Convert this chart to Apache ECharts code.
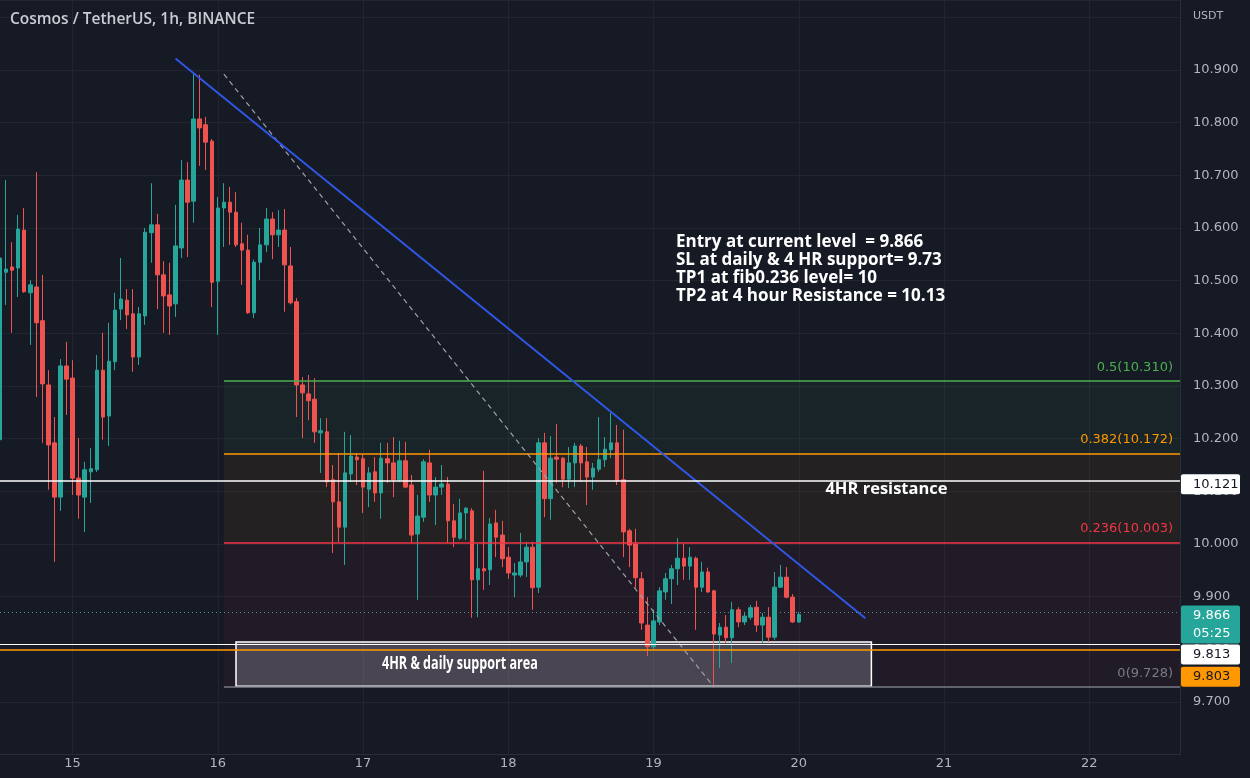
<!DOCTYPE html>
<html><head><meta charset="utf-8">
<script src="https://cdn.jsdelivr.net/npm/echarts@6/dist/echarts.min.js"></script>
<style>html,body{margin:0;padding:0;background:#161a25;}#c{width:1250px;height:778px;}</style>
</head><body><div id="c"></div>
<script>
// ---- data (1h candles, Cosmos / TetherUS, from 14 12:00 to 20 00:00) ----
const open = [10.198,10.516,10.526,10.524,10.596,10.477,10.488,10.424,10.302,10.192,
10.089,10.338,10.315,10.125,10.089,10.137,10.141,10.330,10.243,10.346,
10.446,10.463,10.437,10.355,10.433,10.591,10.606,10.511,10.473,10.456,
10.562,10.691,10.651,10.807,10.796,10.765,10.499,10.638,10.649,10.630,
10.570,10.558,10.439,10.535,10.568,10.617,10.587,10.596,10.528,10.460,
10.302,10.285,10.275,10.211,10.213,10.122,10.080,10.032,10.133,10.165,
10.162,10.104,10.137,10.097,10.162,10.154,10.122,10.158,10.112,10.019,
10.051,10.154,10.093,10.108,10.114,10.044,10.011,10.059,10.063,9.932,
9.953,9.951,10.040,10.017,9.975,9.941,9.941,9.966,9.994,9.918,
10.192,10.086,10.165,10.163,10.123,10.154,10.186,10.156,10.127,10.142,
10.160,10.179,10.192,10.122,10.025,10.000,9.934,9.846,9.805,9.852,
9.909,9.934,9.953,9.973,9.958,9.973,9.918,9.947,9.911,9.827,
9.842,9.822,9.875,9.852,9.861,9.880,9.846,9.861,9.823,9.918,
9.937,9.899,9.852];
const close = [10.543,10.522,10.520,10.598,10.479,10.492,10.420,10.304,10.188,10.089,
10.338,10.313,10.125,10.093,10.141,10.143,10.330,10.241,10.347,10.444,
10.465,10.435,10.355,10.437,10.592,10.606,10.511,10.471,10.452,10.566,
10.691,10.649,10.807,10.790,10.763,10.497,10.638,10.649,10.630,10.568,
10.558,10.439,10.535,10.568,10.617,10.587,10.596,10.530,10.458,10.302,
10.287,10.272,10.213,10.215,10.118,10.080,10.032,10.135,10.167,10.160,
10.108,10.135,10.097,10.163,10.154,10.122,10.158,10.108,10.017,10.053,
10.156,10.093,10.108,10.114,10.044,10.013,10.059,10.068,9.932,9.953,
9.949,10.038,10.013,9.972,9.945,9.945,9.966,9.994,9.917,10.192,
10.086,10.163,10.161,10.123,10.154,10.186,10.154,10.127,10.144,10.160,
10.180,10.192,10.120,10.023,9.998,9.936,9.850,9.805,9.854,9.911,
9.934,9.953,9.973,9.958,9.975,9.918,9.947,9.909,9.829,9.842,
9.822,9.875,9.852,9.863,9.879,9.846,9.861,9.823,9.918,9.937,
9.899,9.852,9.866];
const low = [10.080,10.454,10.401,10.469,10.477,10.378,10.279,10.192,10.103,9.966,
10.063,10.245,10.093,10.048,10.023,10.078,10.137,10.198,10.186,10.330,
10.425,10.408,10.327,10.340,10.416,10.534,10.446,10.401,10.397,10.431,
10.543,10.545,10.610,10.718,10.710,10.450,10.397,10.564,10.568,10.564,
10.492,10.437,10.429,10.501,10.554,10.541,10.564,10.441,10.455,10.241,
10.201,10.235,10.192,10.135,10.108,9.983,10.004,9.960,10.118,10.112,
10.059,10.070,10.080,10.048,10.116,10.089,10.118,10.106,10.002,9.894,
10.042,10.080,10.036,10.093,10.002,9.994,10.008,10.008,9.860,9.861,
9.913,9.922,9.975,9.956,9.934,9.899,9.937,9.937,9.875,9.907,
10.051,10.046,10.116,10.108,10.106,10.108,10.118,10.074,10.103,10.137,
10.146,10.163,10.112,9.975,9.956,9.917,9.837,9.787,9.800,9.846,
9.894,9.886,9.922,9.932,9.932,9.837,9.909,9.907,9.732,9.765,
9.812,9.774,9.842,9.846,9.856,9.833,9.812,9.814,9.818,9.917,
9.897,9.850,9.850];
const high = [10.549,10.691,10.573,10.625,10.638,10.501,10.706,10.511,10.330,10.241,
10.351,10.384,10.349,10.201,10.156,10.182,10.359,10.401,10.420,10.477,
10.543,10.484,10.484,10.450,10.600,10.685,10.627,10.537,10.534,10.644,
10.729,10.725,10.894,10.891,10.811,10.769,10.659,10.685,10.678,10.668,
10.610,10.587,10.540,10.600,10.638,10.630,10.634,10.636,10.564,10.467,
10.317,10.321,10.315,10.239,10.239,10.150,10.173,10.213,10.207,10.173,
10.169,10.146,10.165,10.192,10.192,10.203,10.196,10.194,10.131,10.093,
10.161,10.179,10.127,10.150,10.127,10.076,10.086,10.070,10.068,10.000,
10.139,10.049,10.065,10.044,9.994,9.964,10.021,10.004,10.004,10.201,
10.211,10.205,10.228,10.165,10.184,10.192,10.190,10.184,10.154,10.241,
10.203,10.249,10.226,10.217,10.029,10.029,9.947,9.899,9.875,9.918,
9.945,9.960,10.011,10.000,9.994,9.976,9.966,9.955,9.913,9.850,
9.865,9.890,9.880,9.871,9.884,9.892,9.869,9.880,9.947,9.960,
9.956,9.905,9.871];

// fib retracement levels
const fibLevels = [0.5, 0.382, 0.236, 0];
const fibPrices = [10.310, 10.172, 10.003, 9.728];
const fibColors = ['#4caf50', '#ff9800', '#f23645', '#787b86'];
const fibFills = ['rgba(76,175,80,0.07)', 'rgba(255,152,0,0.06)', 'rgba(242,54,69,0.05)'];
const fibTop = 10.892;

// horizontal levels
const resistance = 10.121;
const lastPrice = 9.866;
const slLine = 9.813;
const orangeLine = 9.803;
const supportTop = 9.814, supportBottom = 9.730;

// trend lines (category index, price)
const trendStart = [29, 10.922], trendEnd = [143, 9.859];
const fibStartIdx = 37, fibDiagEndIdx = 118;
const supportStartIdx = 39, supportEndIdx = 144, supportTextIdx = 76, resTextIdx = 146;

const notes = ['Entry at current level  = 9.866', 'SL at daily & 4 HR support= 9.73',
  'TP1 at fib0.236 level= 10', 'TP2 at 4 hour Resistance = 10.13'];

// hourly category axis: 14 12:00 ... 22 15:00
const cats = [];
for (let i = 0; i < 196; i++) {
  const h = 12 + i, d = 14 + Math.floor(h / 24), hr = h % 24;
  cats.push(d + ' ' + String(hr).padStart(2, '0') + ':00');
}
const last = cats.length - 1;
const ohlc = open.map((o, i) => [o, close[i], low[i], high[i]]);

const chart = echarts.init(document.getElementById('c'), null, {renderer: 'canvas'});
const isDay = (i, v) => v.endsWith(' 00:00');
const labFont = 'DejaVu Sans';

const markLines = [];
fibPrices.forEach((p, k) => {
  markLines.push([
    {coord: [cats[fibStartIdx], p], lineStyle: {color: fibColors[k], width: 1.5, type: 'solid'},
     label: {show: true, position: 'insideEndTop', distance: 7, formatter: fibLevels[k] + '(' + p.toFixed(3) + ')',
             color: fibColors[k], fontSize: 13, fontFamily: labFont}},
    {coord: [cats[last], p]}
  ]);
});
markLines.push([{coord: [cats[fibStartIdx], fibTop], lineStyle: {color: '#9ea1aa', width: 1.2, type: [5, 4]}, label: {show: false}},
                {coord: [cats[fibDiagEndIdx], fibPrices[3]]}]);
markLines.push([{coord: [cats[trendStart[0]], trendStart[1]], lineStyle: {color: '#3056e6', width: 2, type: 'solid'}, label: {show: false}},
                {coord: [cats[trendEnd[0]], trendEnd[1]]}]);
markLines.push({yAxis: resistance, lineStyle: {color: '#ffffff', width: 1.5, type: 'solid'}, label: {show: false}});
markLines.push({yAxis: slLine, lineStyle: {color: '#ffffff', width: 1, type: 'solid'}, label: {show: false}});
markLines.push({yAxis: orangeLine, lineStyle: {color: '#ff9800', width: 1.5, type: 'solid'}, label: {show: false}});
markLines.push({yAxis: lastPrice, lineStyle: {color: '#5b8f8c', width: 1, type: [1, 3]}, label: {show: false}});

const areas = [];
for (let k = 0; k < 3; k++) {
  areas.push([{coord: [cats[fibStartIdx], fibPrices[k]], itemStyle: {color: fibFills[k]}},
              {coord: [cats[last], fibPrices[k + 1]]}]);
}
areas.push([{coord: [cats[supportStartIdx], supportTop],
             itemStyle: {color: 'rgba(170,170,182,0.30)', borderColor: '#ffffff', borderWidth: 1.5}},
            {coord: [cats[supportEndIdx], supportBottom]}]);

chart.setOption({
  animation: false,
  backgroundColor: '#161a25',
  grid: {left: 0, right: 70, top: 0, bottom: 23.34, containLabel: false},
  xAxis: {
    type: 'category', data: cats, boundaryGap: false,
    axisLine: {show: true, lineStyle: {color: '#2a2e39'}},
    axisTick: {show: false},
    axisLabel: {interval: isDay, formatter: v => v.split(' ')[0], color: '#b2b5be', fontSize: 13, margin: 2, fontFamily: labFont},
    splitLine: {show: true, interval: isDay, lineStyle: {color: '#212530', width: 1}}
  },
  yAxis: {
    type: 'value', position: 'right', min: 9.6, max: 11.0329, interval: 0.1,
    axisLine: {show: true, lineStyle: {color: '#2a2e39'}},
    axisTick: {show: false},
    axisLabel: {color: '#b2b5be', fontSize: 13, margin: 13, fontFamily: labFont,
      formatter: v => { const s = (+v).toFixed(3); return (+s > 9.65 && +s < 10.95) ? s : ''; }},
    splitLine: {show: true, lineStyle: {color: '#212530', width: 1}}
  },
  series: [{
    type: 'candlestick', data: ohlc, barWidth: 4,
    itemStyle: {color: '#26a69a', color0: '#ef5350', borderColor: '#26a69a', borderColor0: '#ef5350', borderWidth: 1},
    markLine: {silent: true, symbol: ['none', 'none'], animation: false, data: markLines},
    markArea: {silent: true, data: areas}
  }]
});

// price-scale badges and texts positioned from the axes
const py = v => chart.convertToPixel({yAxisIndex: 0}, v);
const px = i => chart.convertToPixel({xAxisIndex: 0}, cats[i]);
const badge = (y, h, fill, lines, tcolor) => {
  const g = [{type: 'rect', shape: {x: 1181, y: y, width: 59, height: h, r: 2}, style: {fill: fill}, z: 100}];
  lines.forEach((t, i) => g.push({type: 'text', x: 1193, y: y + 10 + i * 18, z: 101,
    style: {text: t, fill: tcolor, font: '13px "DejaVu Sans"', verticalAlign: 'middle'}}));
  return g;
};
const yr = py(resistance), yl = py(lastPrice), ys = py(slLine), yo = py(orangeLine);
const graphics = [].concat(
  badge(yr - 6, 20, '#ffffff', ['10.121'], '#131722'),
  badge(yl - 9, 38, '#26a69a', ['9.866', '05:25'], '#ffffff'),
  badge(ys + 2, 20, '#ffffff', ['9.813'], '#131722'),
  badge(yo + 19, 20, '#ff9800', ['9.803'], '#131722'),
  [{type: 'text', x: 10, y: 20, style: {text: 'Cosmos / TetherUS, 1h, BINANCE', fill: '#c9ccd4', font: '600 15.5px "Open Sans"', verticalAlign: 'middle'}},
   {type: 'text', x: 1193, y: 16, style: {text: 'USDT', fill: '#b2b5be', font: '11px "DejaVu Sans"', verticalAlign: 'middle'}},
   {type: 'text', x: 676, y: 233, z: 50, style: {text: notes.join('\n'), fill: '#ffffff', font: 'bold 17px "Open Sans"', lineHeight: 18}},
   {type: 'text', x: px(resTextIdx) + 3, y: yr + 1, z: 50, style: {text: '4HR resistance', fill: '#ffffff', font: 'bold 16.5px "Open Sans"', align: 'center', verticalAlign: 'top'}},
   {type: 'text', x: px(supportTextIdx), y: (py(supportTop) + py(supportBottom)) / 2, z: 50, scaleX: 0.74, originX: 0, originY: 0,
    style: {text: '4HR & daily support area', fill: '#ffffff', font: 'bold 17px "Open Sans"', align: 'center', verticalAlign: 'middle'}}]
);
chart.setOption({graphic: graphics});
</script></body></html>
